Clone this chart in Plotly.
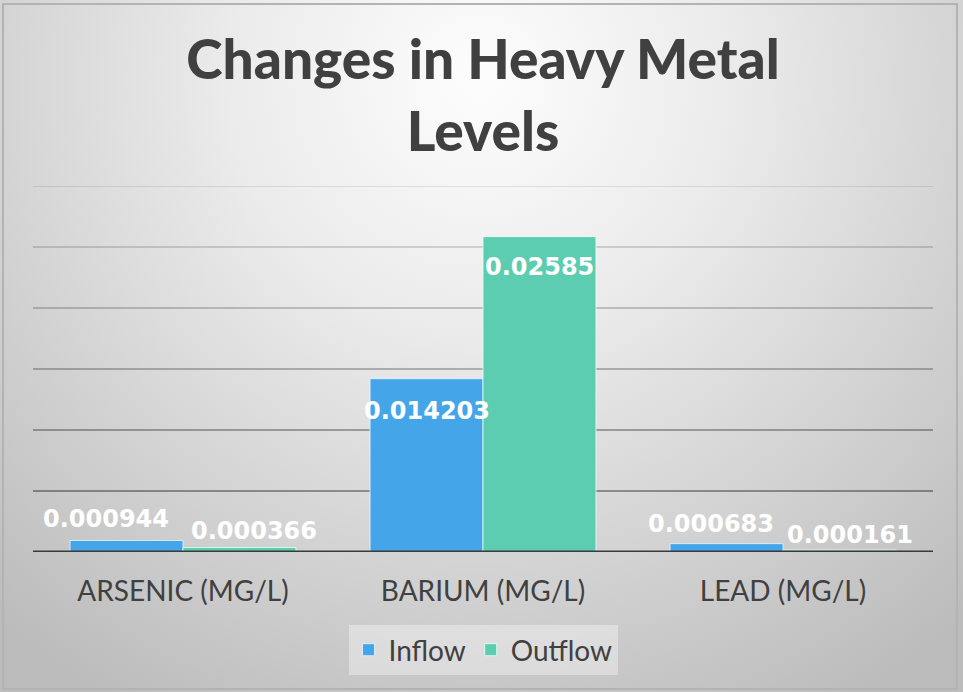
import base64
import plotly.graph_objects as go

# Measured heavy metal concentrations (mg/L)
categories = ["ARSENIC (MG/L)", "BARIUM (MG/L)", "LEAD (MG/L)"]
inflow = [0.000944, 0.014203, 0.000683]
outflow = [0.000366, 0.02585, 0.000161]
label_inflow = ["0.000944", "0.014203", "0.000683"]
label_outflow = ["0.000366", "0.02585", "0.000161"]
grid_values = [0.005, 0.01, 0.015, 0.02, 0.025, 0.03]

W, H = 963, 692
ML, MR, MT, MB = 33, 30, 186, 140
PW, PH = W - ML - MR, H - MT - MB
FONT = "Lato, 'Open Sans', sans-serif"
LABEL_FONT = "'DejaVu Sans', sans-serif"
TEXT = "#404040"
BLUE = "#44a6e8"
TEAL = "#5ccdb0"
BARGAP = 0.247
HALF = (1 - BARGAP) / 4  # offset of each bar centre from the category centre

fig = go.Figure()
fig.add_trace(go.Bar(name="Inflow", x=categories, y=inflow, marker_color=BLUE,
                     marker_line=dict(color="rgba(235,245,255,0.8)", width=1)))
fig.add_trace(go.Bar(name="Outflow", x=categories, y=outflow, marker_color=TEAL,
                     marker_line=dict(color="rgba(235,255,250,0.8)", width=1)))

# Value labels: (xshift, yshift) in pixels relative to the bar top
inflow_shift = [(-21, 21), (0, -32), (-16, 20)]
outflow_shift = [(15, 17), (0, -30), (11, 15)]
for i in range(len(categories)):
    for vals, labels, shifts, side in ((inflow, label_inflow, inflow_shift, -1),
                                       (outflow, label_outflow, outflow_shift, 1)):
        dx, dy = shifts[i]
        fig.add_annotation(x=i + side * HALF, y=vals[i], text=labels[i], showarrow=False,
                           xshift=dx, yshift=dy, xanchor="center", yanchor="middle",
                           font=dict(family=LABEL_FONT, size=24, color="white", weight="bold"))

# Gridlines growing darker towards the baseline
shapes = []
n = len(grid_values)
for k, g in enumerate(grid_values):
    a = 0.36 - (0.36 - 0.09) * k / (n - 1)
    shapes.append(dict(type="line", xref="paper", x0=0, x1=1, yref="y", y0=g, y1=g,
                       line=dict(color=f"rgba(0,0,0,{a:.3f})", width=2), layer="below"))
# Baseline
shapes.append(dict(type="line", xref="paper", x0=0, x1=1, yref="y", y0=0, y1=0,
                   line=dict(color="#3a3a3a", width=3), layer="above"))
# Outer frame of the chart
shapes.append(dict(type="rect", xref="paper", yref="paper",
                   x0=(3 - ML) / PW, x1=(957 - ML) / PW,
                   y0=(MT + PH - 689) / PH, y1=(MT + PH - 4) / PH,
                   line=dict(color="#b3b3b3", width=2), layer="below"))

svg = (f'<svg xmlns="http://www.w3.org/2000/svg" width="{W}" height="{H}">'
       '<defs><radialGradient id="g" cx="480" cy="80" r="720" gradientUnits="userSpaceOnUse">'
       '<stop offset="0" stop-color="#fdfdfd"/><stop offset="0.35" stop-color="#ebebeb"/>'
       '<stop offset="1" stop-color="#bcbcbc"/></radialGradient></defs>'
       f'<rect width="{W}" height="{H}" fill="url(#g)"/></svg>')
src = "data:image/svg+xml;base64," + base64.b64encode(svg.encode()).decode()

fig.update_layout(
    width=W, height=H,
    margin=dict(l=ML, r=MR, t=MT, b=MB),
    paper_bgcolor="#d4d4d4", plot_bgcolor="rgba(0,0,0,0)",
    barmode="group", bargap=BARGAP, bargroupgap=0,
    title=dict(text="Changes in Heavy Metal<br>Levels", x=0.5, xref="paper", xanchor="center",
               y=1 - 79 / H, yanchor="middle",
               font=dict(family=FONT, size=55, color=TEXT, weight=900)),
    xaxis=dict(showgrid=False, showline=False, zeroline=False, ticks="",
               ticklabelstandoff=20,
               tickfont=dict(family=FONT, size=28, color=TEXT)),
    yaxis=dict(range=[0, 0.03], showgrid=False, zeroline=False, showline=False,
               showticklabels=False, ticks=""),
    legend=dict(orientation="h", x=0.5, xanchor="center", y=(MT + PH - 650) / PH,
                yanchor="middle", bgcolor="rgba(255,255,255,0.35)",
                font=dict(family=FONT, size=28, color=TEXT), itemwidth=30,
                traceorder="normal"),
    shapes=shapes,
    images=[dict(source=src, xref="paper", yref="paper", x=-ML / PW, y=1 + MT / PH,
                 sizex=W / PW, sizey=H / PH, sizing="stretch", xanchor="left",
                 yanchor="top", layer="below")],
)

fig.write_html("out.html")
